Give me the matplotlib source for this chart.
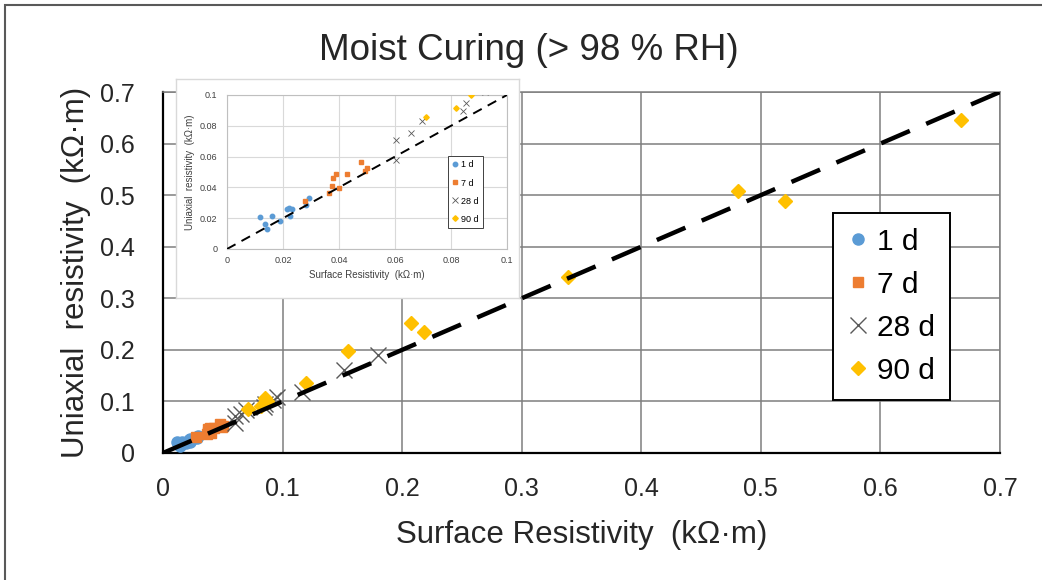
import matplotlib
matplotlib.use("Agg")
import matplotlib.pyplot as plt
from matplotlib.ticker import FuncFormatter
from matplotlib.patches import Rectangle

plt.rcParams['font.family'] = ['Liberation Sans', 'DejaVu Sans']

# ---------------- data ----------------
title = "Moist Curing (> 98 % RH)"
xlabel = "Surface Resistivity  (k\u03a9\u00b7m)"
ylabel = "Uniaxial  resistivity  (k\u03a9\u00b7m)"
labels = ["1 d", "7 d", "28 d", "90 d"]

d1_x = [0.0117, 0.0137, 0.0143, 0.0161, 0.0190, 0.0214, 0.0223, 0.0232, 0.0224, 0.0283, 0.0292]
d1_y = [0.0211, 0.0163, 0.0129, 0.0215, 0.0185, 0.0258, 0.0269, 0.0258, 0.0215, 0.0284, 0.0333]

d7_x = [0.0277, 0.0365, 0.0376, 0.0377, 0.0390, 0.0400, 0.0429, 0.0479, 0.0493, 0.0501]
d7_y = [0.0314, 0.0361, 0.0411, 0.0458, 0.0486, 0.0394, 0.0486, 0.0566, 0.0508, 0.0529]

d28_x = [0.0602, 0.0602, 0.0656, 0.0696, 0.0843, 0.0854, 0.0920, 0.0950, 0.1160, 0.1510, 0.1800]
d28_y = [0.0710, 0.0576, 0.0755, 0.0834, 0.0899, 0.0946, 0.1020, 0.1080, 0.1190, 0.1600, 0.1900]

d90_x = [0.0712, 0.0819, 0.0850, 0.0870, 0.1200, 0.1550, 0.2070, 0.2180, 0.3390, 0.4810, 0.5200, 0.6670]
d90_y = [0.0856, 0.0914, 0.1070, 0.1000, 0.1360, 0.1970, 0.2520, 0.2340, 0.3420, 0.5080, 0.4890, 0.6450]

line_x = [0.0, 0.7]
line_y = [0.0, 0.7]
main_ticks = [0, 0.1, 0.2, 0.3, 0.4, 0.5, 0.6, 0.7]
inset_ticks = [0, 0.02, 0.04, 0.06, 0.08, 0.1]

c_blue = "#5B9BD5"
c_orange = "#ED7D31"
c_gray = "#595959"
c_yellow = "#FFC000"

W, H = 1042, 580
fig = plt.figure(figsize=(W / 100, H / 100), dpi=100)

def fr(x0, y0, x1, y1):
    return [x0 / W, 1 - y1 / H, (x1 - x0) / W, (y1 - y0) / H]

fmt = FuncFormatter(lambda v, p: f"{v:g}")

# ---------------- main axes ----------------
ax = fig.add_axes(fr(163, 92, 1000, 453))
ax.set_xlim(0, 0.7)
ax.set_ylim(0, 0.7)
ax.set_xticks(main_ticks)
ax.set_yticks(main_ticks)
ax.xaxis.set_major_formatter(fmt)
ax.yaxis.set_major_formatter(fmt)
ax.grid(True, color="#7f7f7f", lw=1.1)
ax.set_axisbelow(True)
ax.tick_params(length=0, labelsize=18, colors="#262626")
ax.tick_params(axis='y', pad=20)
ax.tick_params(axis='x', pad=17)
for s in ["top", "right"]:
    ax.spines[s].set_color("#7f7f7f")
    ax.spines[s].set_linewidth(1.1)
for s in ["left", "bottom"]:
    ax.spines[s].set_color("#000000")
    ax.spines[s].set_linewidth(1.6)

ax.plot(d1_x, d1_y, marker="o", ms=8, color=c_blue, mec=c_blue, label=labels[0], zorder=3, linestyle="none")
ax.plot(d7_x, d7_y, marker="s", ms=7.5, color=c_orange, mec=c_orange, label=labels[1], zorder=3, linestyle="none")
ax.plot(d28_x, d28_y, marker="x", ms=11, mew=1.0, color=c_gray, label=labels[2], zorder=3, linestyle="none")
ax.plot(d90_x, d90_y, marker="D", ms=7, color=c_yellow, mec=c_yellow, label=labels[3], zorder=3, linestyle="none")
ax.plot(line_x, line_y, color="black", lw=3.2, dashes=(7, 4), solid_capstyle="butt", zorder=4)

ax.set_xlabel(xlabel, fontsize=22.5, labelpad=14, color="#262626")
ax.set_ylabel(ylabel, fontsize=22.5, labelpad=7, color="#262626")
fig.text(529 / W, 1 - 51 / H, title, fontsize=26.5, color="#262626", ha="center", va="center")

leg = ax.legend(loc="upper left", bbox_to_anchor=(0.8005, 0.665), fontsize=21.5,
                frameon=True, fancybox=False, edgecolor="black", framealpha=1,
                borderpad=0.5, labelspacing=0.5, handlelength=0.66,
                handletextpad=0.3, borderaxespad=0)
leg.get_frame().set_linewidth(1.4)

# ---------------- inset background ----------------
bg = fig.add_axes(fr(176, 79, 519, 298))
bg.set_xticks([])
bg.set_yticks([])
bg.set_facecolor("white")
for s in bg.spines.values():
    s.set_color("#d9d9d9")
    s.set_linewidth(1.0)

# ---------------- inset axes ----------------
ai = fig.add_axes(fr(227, 95, 507, 249))
ai.set_xlim(0, 0.1)
ai.set_ylim(0, 0.1)
ai.set_xticks(inset_ticks)
ai.set_yticks(inset_ticks)
ai.xaxis.set_major_formatter(fmt)
ai.yaxis.set_major_formatter(fmt)
ai.grid(True, color="#d9d9d9", lw=0.8)
ai.set_axisbelow(True)
ai.tick_params(length=0, labelsize=6.5, colors="#404040")
ai.tick_params(axis='y', pad=7)
ai.tick_params(axis='x', pad=5)
for s in ai.spines.values():
    s.set_color("#bfbfbf")
    s.set_linewidth(0.8)

ai.plot(d1_x, d1_y, marker="o", ms=3.2, color=c_blue, mec=c_blue, label=labels[0], linestyle="none", zorder=3)
ai.plot(d7_x, d7_y, marker="s", ms=3.2, color=c_orange, mec=c_orange, label=labels[1], linestyle="none", zorder=3)
ai.plot(d28_x, d28_y, marker="x", ms=5, mew=0.6, color=c_gray, label=labels[2], linestyle="none", zorder=3)
ai.plot(d90_x, d90_y, marker="D", ms=2.8, color=c_yellow, mec=c_yellow, label=labels[3], linestyle="none", zorder=3)
ai.plot(line_x, line_y, color="black", lw=1.4, dashes=(5, 3.5), zorder=4)

ai.set_xlabel(xlabel, fontsize=7, labelpad=4, color="#404040")
ai.set_ylabel(ylabel, fontsize=7, labelpad=3, color="#404040")

ileg = ai.legend(loc="upper left", bbox_to_anchor=(0.789, 0.604), fontsize=6.5,
                 frameon=True, fancybox=False, edgecolor="#404040", framealpha=1,
                 borderpad=0.5, labelspacing=1.0, handlelength=0.6,
                 handletextpad=0.3, borderaxespad=0)
ileg.get_frame().set_linewidth(0.7)

# ---------------- figure border ----------------
fig.patches.append(Rectangle((5 / W, -0.01), 1.02, 1 - 5 / H + 0.01, transform=fig.transFigure,
                             fill=False, edgecolor="#595959", lw=1.5))

fig.savefig("out.png", dpi=100)
